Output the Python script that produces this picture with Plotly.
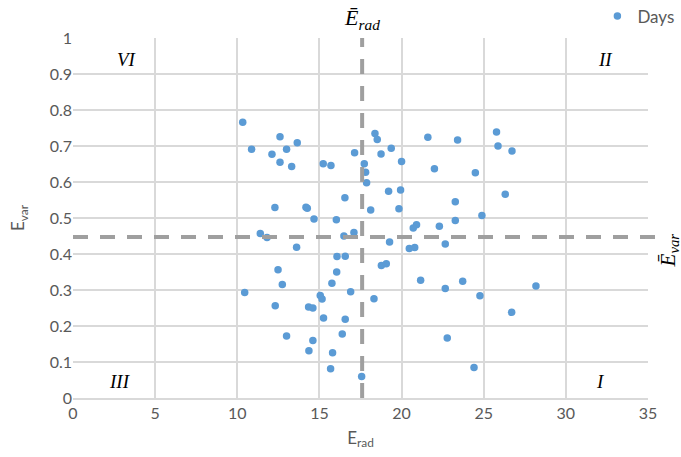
import plotly.graph_objects as go

e_rad = [10.33, 12.60, 10.87, 13.65, 13.00, 12.11, 12.60, 13.31, 15.23, 15.70,
         17.14, 17.73, 17.81, 17.87, 16.55, 12.29, 14.18, 14.26, 18.12, 14.67,
         16.03, 11.40, 11.81, 16.49, 17.10, 13.61, 18.38, 18.52, 21.60, 23.41,
         25.78, 25.87, 26.72, 19.37, 18.75, 20.00, 22.00, 24.49, 19.21, 19.94,
         26.31, 23.27, 19.84, 24.89, 23.27, 20.71, 20.91, 22.30, 19.27, 20.47,
         20.80, 22.66, 16.07, 16.57, 12.48, 16.05, 12.74, 15.76, 10.45, 16.90,
         15.05, 15.16, 12.31, 14.34, 14.60, 15.25, 16.57, 13.00, 14.60, 16.39,
         14.36, 15.80, 15.68, 17.57, 18.77, 19.07, 21.16, 23.72, 22.66, 18.32,
         24.77, 26.70, 22.78, 24.41, 28.18]
e_var = [0.766, 0.726, 0.691, 0.709, 0.691, 0.677, 0.655, 0.643, 0.651, 0.646,
         0.681, 0.651, 0.627, 0.598, 0.556, 0.529, 0.530, 0.527, 0.522, 0.497,
         0.495, 0.457, 0.446, 0.450, 0.460, 0.419, 0.735, 0.718, 0.724, 0.717,
         0.739, 0.700, 0.686, 0.694, 0.678, 0.657, 0.637, 0.626, 0.574, 0.578,
         0.566, 0.545, 0.526, 0.507, 0.493, 0.472, 0.481, 0.477, 0.433, 0.415,
         0.418, 0.428, 0.393, 0.394, 0.356, 0.350, 0.315, 0.319, 0.293, 0.295,
         0.285, 0.275, 0.256, 0.253, 0.250, 0.222, 0.219, 0.172, 0.160, 0.178,
         0.131, 0.126, 0.081, 0.060, 0.368, 0.373, 0.327, 0.324, 0.304, 0.276,
         0.284, 0.238, 0.167, 0.085, 0.311]
mean_rad = 17.6
mean_var = 0.447
quadrant_labels = ["VI", "II", "III", "I"]
quadrant_x = [3.3, 32.4, 2.85, 32.1]
quadrant_y = [0.94, 0.94, 0.045, 0.045]

font = "Lato, 'Open Sans', sans-serif"
serif = "'Liberation Serif', 'DejaVu Serif', serif"
gray = "#595959"
grid = "#d9d9d9"

fig = go.Figure()
fig.add_trace(go.Scatter(x=e_rad, y=e_var, mode="markers", name="Days",
                         marker=dict(color="#5b9bd5", size=7.5)))

dash_style = dict(color="#9f9f9f", width=4, dash="15px,12px")
fig.add_shape(type="line", xref="x", yref="paper", x0=mean_rad, x1=mean_rad,
              y0=0, y1=1, line=dash_style, layer="above")
fig.add_shape(type="line", xref="paper", yref="y", x0=0, x1=1.02,
              y0=mean_var, y1=mean_var, line=dash_style, layer="above")

fig.add_annotation(x=mean_rad, y=1, xref="x", yref="paper", yanchor="bottom",
                   yshift=3, showarrow=False,
                   text="<i>Ē<sub>rad</sub></i>",
                   font=dict(family=serif, size=22, color="#000"))
fig.add_annotation(x=1.0, y=0.41, xref="paper", yref="paper", xanchor="left",
                   xshift=6, showarrow=False, textangle=-90,
                   text="<i>Ē<sub>var</sub></i>",
                   font=dict(family=serif, size=21, color="#000"))

for lab, qx, qy in zip(quadrant_labels, quadrant_x, quadrant_y):
    fig.add_annotation(x=qx, y=qy, xref="x", yref="y", showarrow=False,
                       text="<i>%s</i>" % lab,
                       font=dict(family=serif, size=19, color="#000"))

fig.update_layout(
    width=681, height=457,
    margin=dict(l=73, r=33, t=38, b=59, autoexpand=False),
    paper_bgcolor="white", plot_bgcolor="white",
    font=dict(family=font, size=16, color=gray),
    showlegend=True,
    legend=dict(x=0.912, y=1.06, xanchor="left", yanchor="middle",
                font=dict(family=font, size=17, color=gray),
                bgcolor="rgba(0,0,0,0)", itemwidth=30),
    xaxis=dict(range=[0, 35], dtick=5, tick0=0, showgrid=True, gridcolor=grid,
               gridwidth=1.5, zeroline=False, showline=True, linecolor=grid,
               linewidth=1.5, ticks="", tickfont=dict(size=16, color=gray),
               title=dict(text="E<sub>rad</sub>", font=dict(size=17, color=gray),
                          standoff=11)),
    yaxis=dict(range=[0, 1], dtick=0.1, tick0=0, showgrid=True, gridcolor=grid,
               gridwidth=1.5, zeroline=False, showline=False, ticks="",
               tickfont=dict(size=16, color=gray),
               title=dict(text="E<sub>var</sub>", font=dict(size=17, color=gray),
                          standoff=20)),
)

fig.write_html("out.html", config={"displayModeBar": False},
               post_script="document.body.style.margin='0';document.body.style.overflow='hidden';")
